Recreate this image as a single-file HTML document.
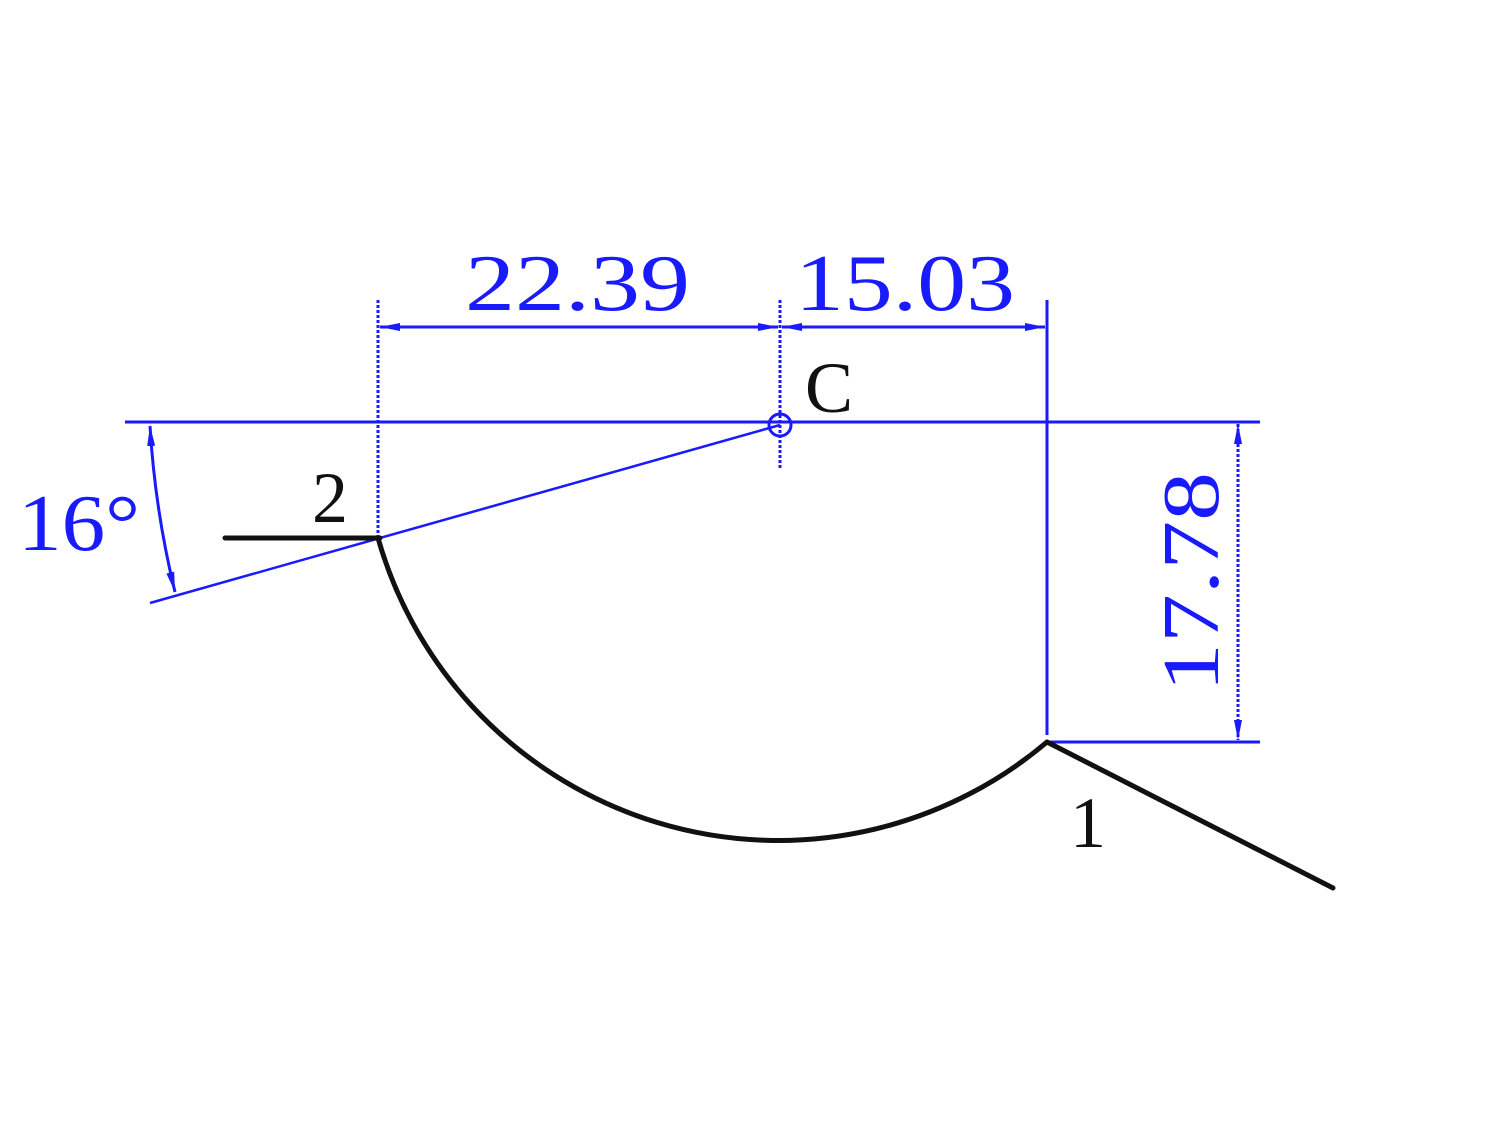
<!DOCTYPE html>
<html><head><meta charset="utf-8"><style>html,body{margin:0;padding:0;background:#fff;}svg{display:block}</style></head>
<body>
<svg width="1500" height="1135" viewBox="0 0 1500 1135" xmlns="http://www.w3.org/2000/svg">
<defs>
<marker id="ar" viewBox="0 0 20 10" refX="20" refY="5" markerWidth="20" markerHeight="10" markerUnits="userSpaceOnUse" orient="auto-start-reverse"><path d="M0,1 L20,5 L0,9 Z" fill="#1a1aff"/></marker>
</defs>
<g stroke="#1a1aff" fill="none" stroke-width="3">
<line x1="125" y1="422" x2="1260" y2="422"/>
<line x1="378" y1="300" x2="378" y2="540" stroke-dasharray="3,2"/>
<line x1="780" y1="300" x2="780" y2="468" stroke-dasharray="3,2"/>
<line x1="1047" y1="300" x2="1047" y2="735"/>
<line x1="380" y1="327" x2="778" y2="327" marker-start="url(#ar)" marker-end="url(#ar)"/>
<line x1="782" y1="327" x2="1045" y2="327" marker-start="url(#ar)" marker-end="url(#ar)"/>
<circle cx="780" cy="425" r="11"/>
<line x1="780" y1="425" x2="150" y2="603" stroke-width="2.5"/>
<line x1="1050" y1="742" x2="1260" y2="742"/>
<line x1="1238" y1="424" x2="1238" y2="740" stroke-dasharray="3,2" marker-start="url(#ar)" marker-end="url(#ar)"/>
<path d="M150,426 Q155,510 175,592" marker-start="url(#ar)" marker-end="url(#ar)"/>
</g>
<g stroke="#111" fill="none" stroke-width="5" stroke-linecap="round">
<line x1="225" y1="538" x2="380" y2="538"/>
<path d="M378,538 A416,416 0 0 0 1047,742"/>
<line x1="1047" y1="742" x2="1333" y2="888"/>
</g>
<g font-family="Liberation Serif, serif" fill="#1a1aff" font-weight="normal">
<text x="465" y="310" font-size="80" textLength="225" lengthAdjust="spacingAndGlyphs">22.39</text>
<text x="795" y="310" font-size="80" textLength="220" lengthAdjust="spacingAndGlyphs">15.03</text>
<text x="18" y="550" font-size="80" textLength="122" lengthAdjust="spacingAndGlyphs">16°</text>
<text transform="translate(1218,692) rotate(-90)" font-size="80" textLength="220" lengthAdjust="spacingAndGlyphs">17.78</text>
</g>
<g font-family="Liberation Serif, serif" fill="#111" font-size="72">
<text x="805" y="412">C</text>
<text x="312" y="522">2</text>
<text x="1070" y="847">1</text>
</g>
</svg>
</body></html>
